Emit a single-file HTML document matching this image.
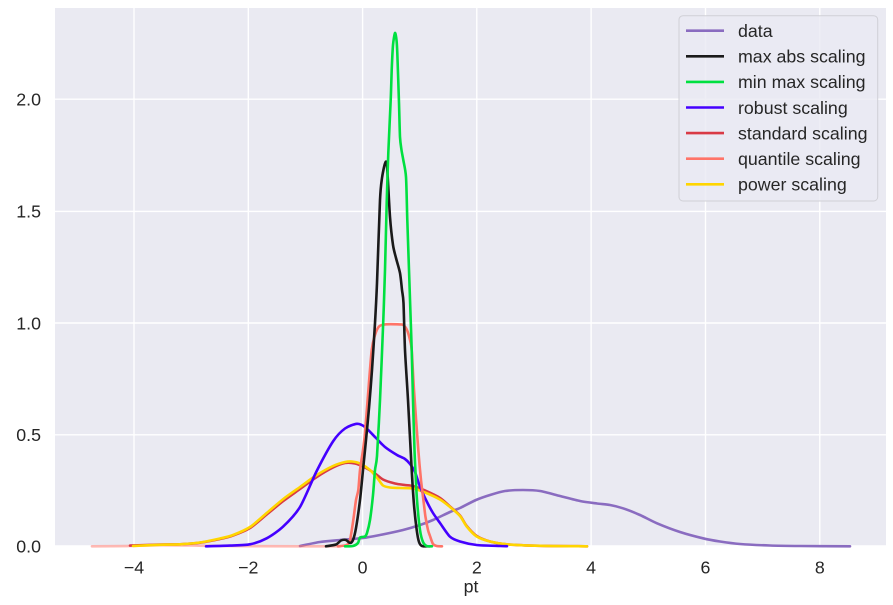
<!DOCTYPE html>
<html><head><meta charset="utf-8"><style>
html,body{margin:0;padding:0;background:#fff;}
svg{display:block;}
text{font-family:"Liberation Sans",Arial,sans-serif;fill:#262626;}
</style></head><body>
<svg id="chart" width="893" height="605" viewBox="0 0 893 605" xmlns="http://www.w3.org/2000/svg">
<rect x="55" y="8" width="831" height="538.5" fill="#eaeaf2"/>
<g stroke="#ffffff" stroke-width="1.4">
<line x1="134" y1="8" x2="134" y2="546.5"/>
<line x1="248.3" y1="8" x2="248.3" y2="546.5"/>
<line x1="362.6" y1="8" x2="362.6" y2="546.5"/>
<line x1="476.8" y1="8" x2="476.8" y2="546.5"/>
<line x1="591.1" y1="8" x2="591.1" y2="546.5"/>
<line x1="705.5" y1="8" x2="705.5" y2="546.5"/>
<line x1="819.8" y1="8" x2="819.8" y2="546.5"/>
<line x1="55" y1="99.2" x2="886" y2="99.2"/>
<line x1="55" y1="211.4" x2="886" y2="211.4"/>
<line x1="55" y1="323" x2="886" y2="323"/>
<line x1="55" y1="434.8" x2="886" y2="434.8"/>
<line x1="55" y1="546" x2="886" y2="546"/>
</g>
<g font-size="17.8" text-anchor="end">
<text x="41" y="552.3">0.0</text>
<text x="41" y="441.1">0.5</text>
<text x="41" y="329.3">1.0</text>
<text x="41" y="217.7">1.5</text>
<text x="41" y="105.5">2.0</text>
</g>
<g font-size="17.8" text-anchor="middle">
<text x="134" y="573.5">−4</text>
<text x="248.3" y="573.5">−2</text>
<text x="362.6" y="573.5">0</text>
<text x="476.8" y="573.5">2</text>
<text x="591.1" y="573.5">4</text>
<text x="705.5" y="573.5">6</text>
<text x="819.8" y="573.5">8</text>
<text x="471" y="592.5">pt</text>
</g>
<g fill="none" stroke-width="2.6" stroke-linejoin="round" stroke-linecap="round">
<polyline class="sm" stroke="#8a6cc0" points="300,546 320,542 340,540 363,538 380,535 403,530 420,525 433,520 450,512 460,508 476,500 490,495 505,491 523,490 540,491 560,496 580,501 597,503.5 610,505 623,508.3 640,515 657,523.3 680,532 703,538.3 720,541.5 740,544 770,545.5 800,546 850,546.3"/>
<polyline class="sm" stroke="#ff7468" stroke-opacity="0.5" points="92,546.3 130,546 160,545.2 190,545.5 220,546 300,546.3 340,546.3"/>
<polyline class="sm" stroke="#d93a45" points="130,545.6 160,544.5 180,544.3 200,542.7 220,539 233,535.5 250,528 266.7,514.5 283.3,501 300,489 316,477.5 333,467.5 345,463 355,463.5 365,467.5 375,473.5 383,479.5 395,483.5 405,485 413,486 425,490.5 440,498 450,506.5 460,515.5 466.7,526 476.7,536 490,541.5 506.7,544.3 540,545.8 587,546.3"/>
<polyline class="sm" stroke="#ffd500" points="133,546 160,544.8 180,544.3 200,542.5 220,538.5 233,535 250,527 266.7,513 283.3,499 300,487 316,475.5 333,466 345,462 352,461.5 360,463.5 370,470 378,479 383,485.5 390,487.5 400,488 413,488.5 425,492.5 440,499.5 450,507 460,516 466.7,526.5 476.7,536.5 490,541.5 506.7,544.3 540,545.8 587,546.3"/>
<polyline class="sm" stroke="#4400ff" points="206,546.3 230,545.6 250,544.3 266.7,538.3 283,526.7 300,507 316.7,471 333.3,441 345,428.5 357,423.8 365,427 375,437 385,447 397,455 405,459 410,464 415,472 420,486.7 427,502 433,513 440,523 450,536.7 460,541.5 476.7,545 500,546 507,546.2"/>
<polyline class="sm" stroke="#ff7468" points="338,546.3 346.7,545 350,540 353.3,520 356,500 358.3,490 360,470 363,450 365,433 368,395 371.7,350 375,335 379,326.5 385,324.4 400,324.4 403.3,325 407,330 410,340 411.7,350 414,390 418.3,450 421,480 424,505 425.5,517 428,530 430,536 433,544 436.7,546 442,546.3"/>
<polyline class="sm" stroke="#1a1a1a" points="326,546.3 336,544.5 341,540.5 346,540 350,543 353,540 356,528 360,500 363,470 366,440 369,408 372,370 375,323 377,283 380,200 382,178 385,163.5 387,166 390,217 393,245 396,258 400,273 402,290 403.5,303 405,350 408,400 411.7,470 414,505 416.7,530 419,542 422,546 430,546.3"/>
<polyline class="sm" stroke="#00e040" points="345,546.3 353,546 358,543 360,537.5 365,536.5 367,533 370,520 373,495 375,470 377,456 380,400 383.3,320 385,270 386.7,203 388.3,153 390.7,100 391.7,70 393,45 395,33 396.5,40 397.3,53 399,103 400,137 401.5,150 403.3,160 406,177 407.3,220 409,270 410.7,320 411.7,350 413,400 414.5,450 415.5,472 417,500 420,530 423,542 426.7,546 432,546.3"/>
</g>
<rect x="679" y="15.7" width="198.7" height="185.3" rx="4" ry="4" fill="#eaeaf2" fill-opacity="0.8" stroke="#d0d0d6" stroke-width="1"/>
<g stroke-width="2.6" stroke-linecap="butt">
<line x1="686" y1="30.7" x2="724" y2="30.7" stroke="#8a6cc0"/>
<line x1="686" y1="56.3" x2="724" y2="56.3" stroke="#1a1a1a"/>
<line x1="686" y1="81.9" x2="724" y2="81.9" stroke="#00e040"/>
<line x1="686" y1="107.5" x2="724" y2="107.5" stroke="#4400ff"/>
<line x1="686" y1="133.1" x2="724" y2="133.1" stroke="#d93a45"/>
<line x1="686" y1="158.7" x2="724" y2="158.7" stroke="#ff7468"/>
<line x1="686" y1="184.3" x2="724" y2="184.3" stroke="#ffd500"/>
</g>
<g font-size="17.8">
<text x="738" y="37">data</text>
<text x="738" y="62.6">max abs scaling</text>
<text x="738" y="88.2">min max scaling</text>
<text x="738" y="113.8">robust scaling</text>
<text x="738" y="139.4">standard scaling</text>
<text x="738" y="165">quantile scaling</text>
<text x="738" y="190.6">power scaling</text>
</g>
</svg>
<script>
(function(){
var NS="http://www.w3.org/2000/svg";
var pls=document.querySelectorAll("polyline.sm");
for(var k=0;k<pls.length;k++){
var pl=pls[k];
var raw=pl.getAttribute("points").trim().split(/\s+/);
var p=raw.map(function(s){var a=s.split(",");return [parseFloat(a[0]),parseFloat(a[1])];});
if(p.length<3)continue;
var d="M"+p[0][0]+","+p[0][1];
for(var i=0;i<p.length-1;i++){
var p0=p[i>0?i-1:i],p1=p[i],p2=p[i+1],p3=p[i+2<p.length?i+2:i+1];
var t=0.13;
var c1x=p1[0]+(p2[0]-p0[0])*t,c1y=p1[1]+(p2[1]-p0[1])*t;
var c2x=p2[0]-(p3[0]-p1[0])*t,c2y=p2[1]-(p3[1]-p1[1])*t;
d+=" C"+c1x.toFixed(2)+","+c1y.toFixed(2)+" "+c2x.toFixed(2)+","+c2y.toFixed(2)+" "+p2[0]+","+p2[1];
}
var path=document.createElementNS(NS,"path");
path.setAttribute("d",d);
path.setAttribute("stroke",pl.getAttribute("stroke"));
if(pl.getAttribute("stroke-opacity"))path.setAttribute("stroke-opacity",pl.getAttribute("stroke-opacity"));
pl.parentNode.replaceChild(path,pl);
}
})();
</script>
</body></html>
